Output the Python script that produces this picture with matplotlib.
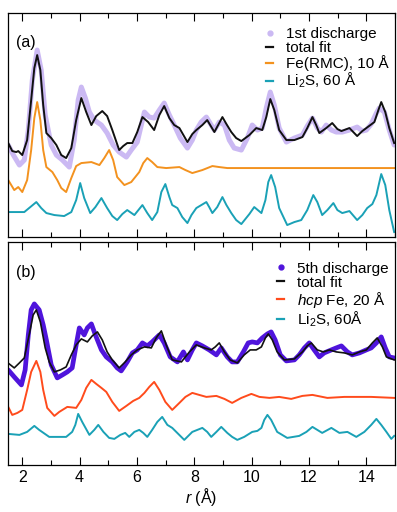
import numpy as np
import matplotlib
matplotlib.use("Agg")
import matplotlib.pyplot as plt
from matplotlib.lines import Line2D
from matplotlib.ticker import MultipleLocator

plt.rcParams['font.family'] = ['Liberation Sans', 'DejaVu Sans']
plt.rcParams['mathtext.fontset'] = 'custom'
plt.rcParams['mathtext.rm'] = 'Liberation Sans'
plt.rcParams['mathtext.it'] = 'Liberation Sans:italic'
plt.rcParams['font.size'] = 11.5
plt.rcParams['lines.solid_joinstyle'] = 'round'

# ---- (a) 1st discharge: PDF (arb. units, curves stacked with offsets)
r_a_data = [1.51, 1.69, 1.90, 2.07, 2.21, 2.35, 2.52, 2.66, 2.80, 3.01, 3.19, 3.40, 3.64, 3.81,
            3.95, 4.06, 4.20, 4.34, 4.51, 4.76, 4.96, 5.17, 5.38, 5.63, 5.80, 6.01, 6.26, 6.43,
            6.60, 6.78, 6.95, 7.13, 7.30, 7.51, 7.76, 7.93, 8.07, 8.24, 8.42, 8.59, 8.70, 8.87,
            9.05, 9.22, 9.39, 9.64, 9.85, 10.02, 10.20, 10.37, 10.51, 10.65, 10.79, 10.96, 11.21,
            11.49, 11.77, 11.94, 12.12, 12.29, 12.43, 12.60, 12.78, 12.95, 13.16, 13.41, 13.68,
            13.86, 14.00, 14.17, 14.35, 14.45, 14.63, 14.80, 14.97]
g_a_data = [92, 82, 72, 77, 107, 157, 187, 167, 122, 92, 82, 77, 70, 97,
            137, 150, 139, 125, 117, 112, 104, 92, 85, 80, 87, 95, 125, 120,
            119, 127, 134, 122, 112, 99, 89, 97, 107, 115, 120, 112, 107, 115,
            112, 97, 89, 87, 99, 112, 107, 109, 129, 145, 132, 109, 95,
            99, 102, 111, 119, 109, 105, 112, 107, 105, 105, 107, 110,
            106, 107, 113, 124, 129, 125, 107, 92]

r_a_fit = [1.51, 1.65, 1.79, 1.86, 2.00, 2.17, 2.31, 2.42, 2.52, 2.63, 2.73, 2.84, 3.01, 3.19,
           3.36, 3.53, 3.71, 3.88, 4.06, 4.23, 4.41, 4.58, 4.79, 4.96, 5.14, 5.38, 5.52, 5.66,
           5.84, 6.01, 6.19, 6.39, 6.60, 6.78, 6.95, 7.13, 7.30, 7.48, 7.76, 7.93, 8.07, 8.28,
           8.45, 8.70, 8.98, 9.12, 9.29, 9.46, 9.64, 9.92, 10.16, 10.37, 10.51, 10.65, 10.79,
           10.96, 11.21, 11.49, 11.77, 11.94, 12.12, 12.25, 12.36, 12.60, 12.81, 12.99, 13.13,
           13.41, 13.68, 13.86, 14.00, 14.28, 14.42, 14.52, 14.66, 14.80, 14.97]
g_a_fit = [94, 86, 85, 86, 82, 97, 137, 169, 182, 167, 132, 104, 99, 92,
           82, 79, 89, 117, 139, 125, 112, 121, 126, 121, 107, 87, 91, 94,
           94, 105, 120, 115, 107, 122, 131, 119, 112, 109, 95, 103, 107, 112,
           117, 105, 120, 113, 105, 99, 96, 102, 109, 107, 120, 138, 127,
           107, 97, 97, 100, 109, 120, 112, 104, 109, 114, 108, 106,
           109, 101, 106, 109, 115, 127, 135, 125, 109, 94]

r_a_fe = [1.51, 1.72, 1.86, 2.00, 2.17, 2.31, 2.42, 2.52, 2.63, 2.73, 2.84, 3.05, 3.22, 3.36,
          3.53, 3.71, 3.88, 4.06, 4.41, 4.69, 4.86, 5.03, 5.17, 5.31, 5.56, 5.80, 6.08, 6.22,
          6.36, 6.53, 6.71, 7.02, 7.48, 7.69, 7.93, 8.28, 8.63, 8.87, 9.15, 14.97]
g_a_fe = [57, 47, 50, 45, 57, 87, 119, 135, 117, 87, 70, 65, 57, 49,
          45, 59, 71, 74, 75, 72, 79, 87, 77, 60, 52, 55, 65, 74,
          79, 75, 70, 69, 70, 67, 64, 67, 71, 70, 69, 69]

r_a_li2s = [1.51, 2.07, 2.28, 2.49, 2.66, 2.84, 3.12, 3.46, 3.71, 3.88, 4.02, 4.16, 4.37, 4.55,
            4.76, 4.96, 5.14, 5.31, 5.49, 5.66, 5.91, 6.19, 6.36, 6.53, 6.71, 6.85, 6.99, 7.13,
            7.23, 7.41, 7.58, 7.76, 7.90, 8.07, 8.42, 8.52, 8.63, 8.80, 8.98, 9.12, 9.29, 9.46,
            9.64, 9.92, 10.09, 10.34, 10.48, 10.58, 10.68, 10.82, 10.96, 11.24, 11.49, 11.73,
            11.94, 12.15, 12.29, 12.46, 12.64, 12.85, 12.99, 13.16, 13.41, 13.68, 13.86, 14.03,
            14.21, 14.35, 14.52, 14.66, 14.80, 14.97]
g_a_li2s = [25, 25, 30, 35, 29, 24, 22, 21, 25, 37, 54, 39, 24, 30,
            39, 29, 21, 17, 23, 27, 22, 32, 24, 17, 25, 45, 53, 40,
            32, 29, 20, 14, 22, 29, 35, 30, 24, 30, 40, 32, 24, 17,
            13, 23, 30, 24, 37, 55, 62, 50, 29, 12, 15, 17,
            27, 42, 35, 22, 27, 34, 27, 24, 26, 17, 22, 29,
            33, 42, 63, 52, 27, 5]

# ---- (b) 5th discharge
r_b_data = [1.51, 1.72, 1.97, 2.10, 2.21, 2.31, 2.42, 2.59, 2.73, 2.84, 3.01, 3.22, 3.40, 3.57,
            3.74, 3.88, 3.99, 4.16, 4.27, 4.41, 4.55, 4.76, 4.93, 5.14, 5.31, 5.45, 5.66, 5.84,
            6.01, 6.19, 6.36, 6.53, 6.78, 6.95, 7.16, 7.41, 7.62, 7.76, 7.93, 8.07, 8.28, 8.52,
            8.77, 8.94, 9.15, 9.32, 9.50, 9.71, 9.88, 10.02, 10.20, 10.37, 10.55, 10.68, 10.82,
            11.00, 11.21, 11.49, 11.66, 11.84, 12.01, 12.18, 12.36, 12.53, 12.78, 12.95, 13.13,
            13.34, 13.51, 13.76, 14.00, 14.17, 14.35, 14.52, 14.66, 14.80, 14.97]
g_b_data = [95, 88, 80, 95, 130, 155, 161, 155, 140, 125, 100, 87, 90, 93,
            97, 120, 137, 130, 137, 141, 130, 115, 108, 103, 97, 94, 103, 112,
            115, 122, 119, 123, 130, 122, 108, 103, 113, 105, 115, 122, 119, 115,
            110, 117, 108, 103, 103, 113, 122, 123, 122, 127, 131, 133, 125,
            110, 104, 105, 110, 117, 122, 115, 108, 112, 115, 117, 119,
            113, 110, 112, 115, 117, 122, 128, 117, 108, 107]

r_b_fit = [1.50, 1.72, 1.90, 2.07, 2.24, 2.38, 2.49, 2.63, 2.80, 2.94, 3.12, 3.33, 3.53, 3.71,
           3.88, 4.06, 4.27, 4.44, 4.62, 4.79, 4.96, 5.14, 5.38, 5.59, 5.80, 6.01, 6.26, 6.50,
           6.67, 6.85, 7.02, 7.23, 7.55, 7.83, 8.07, 8.35, 8.59, 8.73, 8.87, 9.05, 9.25, 9.50,
           9.74, 9.95, 10.16, 10.34, 10.48, 10.58, 10.72, 10.89, 11.14, 11.49, 11.77, 11.94,
           12.08, 12.29, 12.50, 12.71, 12.95, 13.23, 13.51, 13.76, 14.00, 14.21, 14.38, 14.56,
           14.70, 14.97]
g_b_fit = [102, 97, 102, 107, 130, 150, 155, 143, 117, 103, 93, 95, 98, 110,
           120, 126, 123, 129, 133, 125, 113, 105, 97, 103, 110, 115, 118, 117,
           127, 134, 120, 105, 103, 113, 120, 117, 115, 118, 122, 113, 105, 102,
           110, 115, 115, 118, 127, 131, 125, 113, 105, 106, 113, 119,
           122, 115, 113, 115, 113, 112, 110, 113, 115, 122, 127, 118,
           108, 105]

r_b_fe = [1.51, 1.65, 1.83, 2.00, 2.17, 2.31, 2.49, 2.63, 2.73, 2.87, 3.12, 3.29, 3.57, 3.88,
          4.06, 4.23, 4.41, 4.58, 4.76, 4.93, 5.14, 5.38, 5.63, 5.87, 6.08, 6.26, 6.43, 6.60,
          6.78, 6.99, 7.23, 7.48, 7.69, 7.93, 8.17, 8.42, 8.77, 9.05, 9.32, 9.64, 9.99, 10.27,
          10.62, 10.96, 11.38, 11.77, 12.12, 12.64, 13.23, 14.17, 14.97]
g_b_fe = [58, 50, 52, 55, 75, 93, 104, 93, 75, 57, 49, 53, 58, 57,
          65, 77, 85, 81, 77, 73, 63, 54, 59, 64, 67, 72, 78, 83,
          75, 63, 55, 62, 68, 72, 70, 68, 69, 66, 62, 67, 71, 68,
          67, 68, 66, 69, 70, 67, 68, 68, 67]

r_b_li2s = [1.51, 1.90, 2.17, 2.42, 2.59, 2.94, 3.53, 3.74, 3.85, 3.95, 4.09, 4.34, 4.51, 4.65,
            4.83, 5.03, 5.21, 5.42, 5.59, 5.73, 5.91, 6.08, 6.22, 6.36, 6.53, 6.71, 6.88, 7.06,
            7.23, 7.37, 7.65, 7.93, 8.28, 8.45, 8.59, 8.77, 8.94, 9.15, 9.32, 9.50, 9.74, 10.02,
            10.20, 10.34, 10.44, 10.55, 10.68, 10.89, 11.24, 11.66, 11.91, 12.12, 12.29, 12.46,
            12.78, 13.06, 13.34, 13.65, 13.93, 14.17, 14.35, 14.52, 14.70, 14.87, 14.97]
g_b_li2s = [31, 30, 33, 39, 35, 28, 28, 33, 40, 51, 43, 30, 35, 40,
            33, 27, 26, 30, 32, 28, 33, 35, 32, 28, 35, 43, 48, 40,
            37, 33, 25, 33, 37, 33, 28, 33, 38, 32, 28, 25, 28, 33,
            34, 37, 45, 50, 45, 33, 27, 29, 33, 38, 35, 32,
            37, 32, 33, 28, 33, 40, 46, 40, 33, 26, 29]

c_data_a = '#cbb9f3'
c_data_b = '#4f14dc'
c_fe_a = '#f3921f'
c_fe_b = '#ff4b1c'
c_li2s = '#1aa1b6'

fig = plt.figure(figsize=(3.97, 5.12), dpi=100)
ax_a = fig.add_axes([0.020, 0.537, 0.975, 0.4375])
ax_b = fig.add_axes([0.020, 0.092, 0.975, 0.4355])

ax_a.plot(r_a_data, g_a_data, color=c_data_a, lw=3.6, solid_capstyle='round')
ax_a.plot(r_a_fit, g_a_fit, color='#111111', lw=1.4)
ax_a.plot(r_a_fe, g_a_fe, color=c_fe_a, lw=1.4)
ax_a.plot(r_a_li2s, g_a_li2s, color=c_li2s, lw=1.4)
ax_a.set_ylim(0, 224)

ax_b.plot(r_b_data, g_b_data, color=c_data_b, lw=3.4, solid_capstyle='round')
ax_b.plot(r_b_fit, g_b_fit, color='#111111', lw=1.2)
ax_b.plot(r_b_fe, g_b_fe, color=c_fe_b, lw=1.4)
ax_b.plot(r_b_li2s, g_b_li2s, color=c_li2s, lw=1.4)
ax_b.set_ylim(0, 223)

for ax in (ax_a, ax_b):
    ax.set_xlim(1.5, 15)
    ax.xaxis.set_major_locator(MultipleLocator(2))
    ax.xaxis.set_minor_locator(MultipleLocator(1))
    ax.tick_params(axis='x', which='both', direction='in', top=True, bottom=True)
    ax.tick_params(axis='x', which='major', length=6, width=0.8)
    ax.tick_params(axis='x', which='minor', length=3.5, width=0.8)
    ax.set_yticks([])
    for s in ax.spines.values():
        s.set_linewidth(0.9)

ax_a.tick_params(axis='x', labelbottom=False)
ax_b.set_xlabel(r'$r$ (Å)', labelpad=1)

ax_a.text(0.02, 0.87, '(a)', transform=ax_a.transAxes, va='center', ha='left')
ax_b.text(0.02, 0.865, '(b)', transform=ax_b.transAxes, va='center', ha='left')

def legend_handles(c_dat, c_fe):
    return [Line2D([], [], ls='none', marker='o', ms=3.5, mfc=c_dat, mec=c_dat),
            Line2D([], [], color='#111111', lw=1.6),
            Line2D([], [], color=c_fe, lw=1.6),
            Line2D([], [], color=c_li2s, lw=1.6)]

ax_a.legend(legend_handles(c_data_a, c_fe_a),
            ['1st discharge', 'total fit', 'Fe(RMC), 10 Å', r'Li$_2$S, 60 Å'],
            loc='upper right', bbox_to_anchor=(1.01, 0.985), frameon=False, fontsize=11,
            handlelength=0.45, handletextpad=0.8, labelspacing=0.0, borderpad=0.2)
ax_b.legend(legend_handles(c_data_b, c_fe_b),
            ['5th discharge', 'total fit', r'$\it{hcp}$ Fe, 20 Å', r'Li$_2$S, 60Å'],
            loc='upper right', bbox_to_anchor=(1.01, 0.96), frameon=False, fontsize=11,
            handlelength=0.45, handletextpad=0.8, labelspacing=0.0, borderpad=0.2)

fig.savefig('out.png', dpi=100)
